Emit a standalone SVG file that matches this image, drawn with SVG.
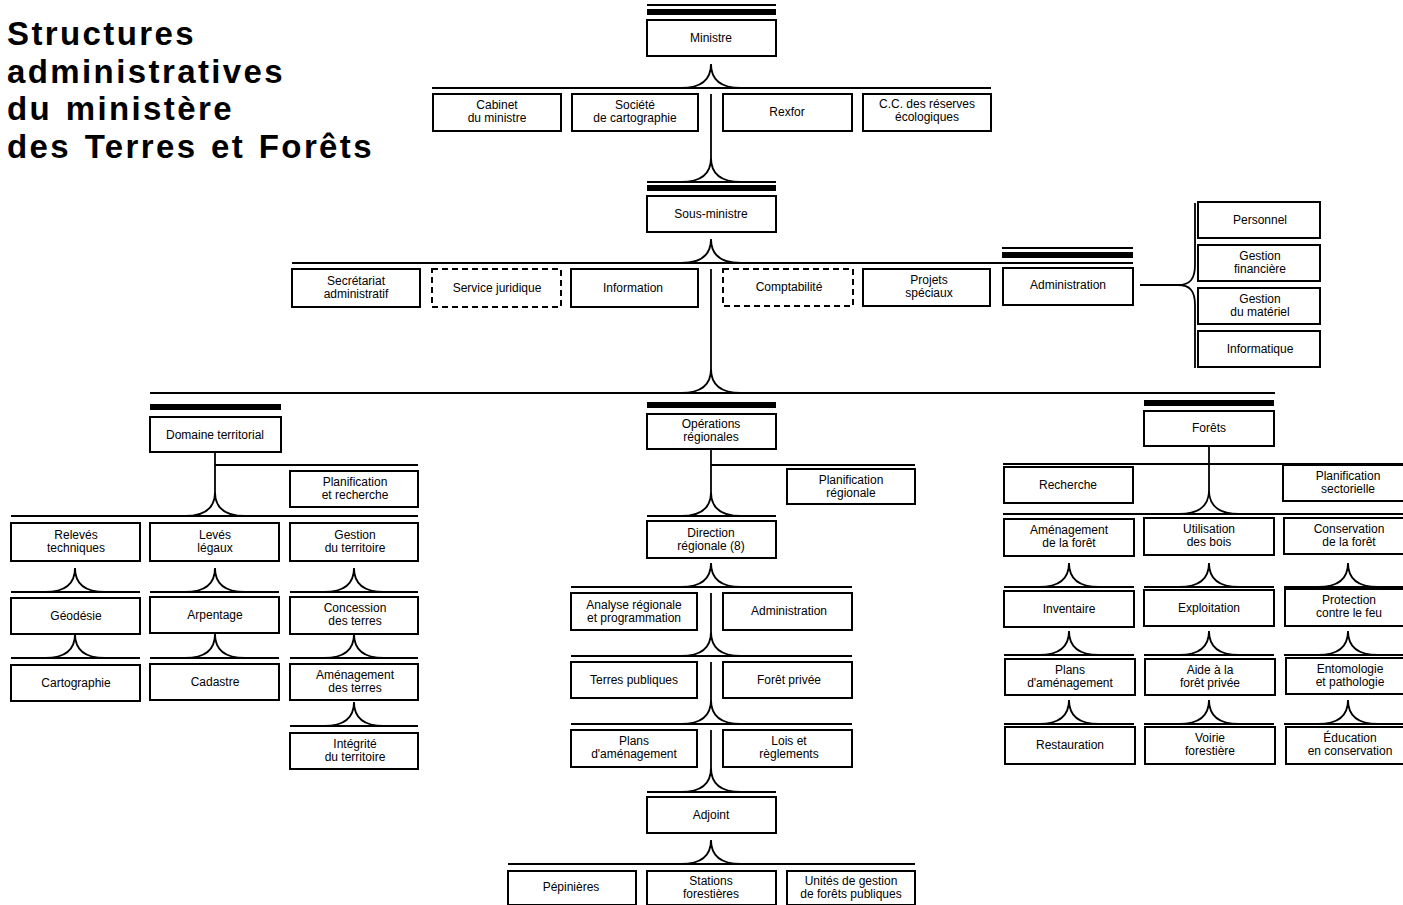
<svg xmlns="http://www.w3.org/2000/svg" width="1403" height="905" viewBox="0 0 1403 905">
<style>
.bx{fill:#fff;stroke:#000;stroke-width:2}
.ds{stroke-dasharray:6 4}
.ln{fill:none;stroke:#000;stroke-width:1.8}
.bar{fill:#000}
.t{font-family:"Liberation Sans",Arial,sans-serif;font-size:12px;text-anchor:middle;fill:#000}
.ti{font-family:"Liberation Sans",Arial,sans-serif;font-size:33px;font-weight:bold;letter-spacing:2.4px;word-spacing:2px;fill:#000}
</style>
<rect x="0" y="0" width="1403" height="905" fill="#fff"/>
<g id="title">
<text class="ti" x="7" y="45">Structures</text>
<text class="ti" x="7" y="83">administratives</text>
<text class="ti" x="7" y="120">du ministère</text>
<text class="ti" x="7" y="158">des Terres et Forêts</text>
</g>
<g id="connectors">
<line class="ln" x1="647" y1="5" x2="776" y2="5"/>
<rect class="bar" x="647" y="9" width="129" height="6"/>
<line class="ln" x1="432" y1="88" x2="991" y2="88"/>
<path class="ln" d="M681,88 C699,88 711,82 711,64 C711,82 723,88 741,88"/>
<line class="ln" x1="711" y1="94" x2="711" y2="158"/>
<line class="ln" x1="647" y1="182" x2="776" y2="182"/>
<path class="ln" d="M681,182 C699,182 711,176 711,158 C711,176 723,182 741,182"/>
<rect class="bar" x="647" y="185" width="129" height="6"/>
<line class="ln" x1="292" y1="263" x2="1133" y2="263"/>
<path class="ln" d="M681,263 C699,263 711,257 711,239 C711,257 723,263 741,263"/>
<line class="ln" x1="1002" y1="248" x2="1133" y2="248"/>
<rect class="bar" x="1002" y="252" width="131" height="6"/>
<line class="ln" x1="711" y1="269" x2="711" y2="369"/>
<line class="ln" x1="150" y1="393" x2="1275" y2="393"/>
<path class="ln" d="M681,393 C699,393 711,387 711,369 C711,387 723,393 741,393"/>
<line class="ln" x1="1140" y1="285" x2="1178" y2="285"/>
<path class="ln" d="M1195,203 L1195,265 C1195,279 1190,285 1178,285 C1190,285 1195,291 1195,305 L1195,368"/>
<rect class="bar" x="150" y="404" width="131" height="6"/>
<rect class="bar" x="647" y="402" width="129" height="6"/>
<rect class="bar" x="1144" y="400" width="130" height="6"/>
<line class="ln" x1="215" y1="452" x2="215" y2="492"/>
<line class="ln" x1="215" y1="465" x2="418" y2="465"/>
<line class="ln" x1="11" y1="516" x2="418" y2="516"/>
<path class="ln" d="M185,516 C203,516 215,510 215,492 C215,510 227,516 245,516"/>
<line class="ln" x1="11" y1="592" x2="140" y2="592"/>
<path class="ln" d="M45,592 C63,592 75,586 75,568 C75,586 87,592 105,592"/>
<line class="ln" x1="150" y1="592" x2="279" y2="592"/>
<path class="ln" d="M185,592 C203,592 215,586 215,568 C215,586 227,592 245,592"/>
<line class="ln" x1="290" y1="592" x2="418" y2="592"/>
<path class="ln" d="M324,592 C342,592 354,586 354,568 C354,586 366,592 384,592"/>
<line class="ln" x1="11" y1="658" x2="140" y2="658"/>
<path class="ln" d="M45,658 C63,658 75,652 75,634 C75,652 87,658 105,658"/>
<line class="ln" x1="150" y1="658" x2="279" y2="658"/>
<path class="ln" d="M185,658 C203,658 215,652 215,634 C215,652 227,658 245,658"/>
<line class="ln" x1="290" y1="658" x2="418" y2="658"/>
<path class="ln" d="M324,658 C342,658 354,652 354,634 C354,652 366,658 384,658"/>
<line class="ln" x1="290" y1="726" x2="418" y2="726"/>
<path class="ln" d="M324,726 C342,726 354,720 354,702 C354,720 366,726 384,726"/>
<line class="ln" x1="711" y1="449" x2="711" y2="492"/>
<line class="ln" x1="711" y1="465" x2="915" y2="465"/>
<line class="ln" x1="647" y1="516" x2="776" y2="516"/>
<path class="ln" d="M681,516 C699,516 711,510 711,492 C711,510 723,516 741,516"/>
<line class="ln" x1="571" y1="587" x2="852" y2="587"/>
<path class="ln" d="M681,587 C699,587 711,581 711,563 C711,581 723,587 741,587"/>
<line class="ln" x1="711" y1="593" x2="711" y2="632"/>
<line class="ln" x1="571" y1="656" x2="852" y2="656"/>
<path class="ln" d="M681,656 C699,656 711,650 711,632 C711,650 723,656 741,656"/>
<line class="ln" x1="711" y1="662" x2="711" y2="700"/>
<line class="ln" x1="571" y1="724" x2="852" y2="724"/>
<path class="ln" d="M681,724 C699,724 711,718 711,700 C711,718 723,724 741,724"/>
<line class="ln" x1="711" y1="730" x2="711" y2="768"/>
<line class="ln" x1="647" y1="792" x2="776" y2="792"/>
<path class="ln" d="M681,792 C699,792 711,786 711,768 C711,786 723,792 741,792"/>
<line class="ln" x1="508" y1="864" x2="915" y2="864"/>
<path class="ln" d="M681,864 C699,864 711,858 711,840 C711,858 723,864 741,864"/>
<line class="ln" x1="1209" y1="446" x2="1209" y2="490"/>
<line class="ln" x1="1003" y1="464" x2="1403" y2="464"/>
<line class="ln" x1="1003" y1="514" x2="1403" y2="514"/>
<path class="ln" d="M1179,514 C1197,514 1209,508 1209,490 C1209,508 1221,514 1239,514"/>
<line class="ln" x1="1004" y1="587" x2="1134" y2="587"/>
<path class="ln" d="M1039,587 C1057,587 1069,581 1069,563 C1069,581 1081,587 1099,587"/>
<line class="ln" x1="1144" y1="587" x2="1274" y2="587"/>
<path class="ln" d="M1179,587 C1197,587 1209,581 1209,563 C1209,581 1221,587 1239,587"/>
<line class="ln" x1="1284" y1="587" x2="1403" y2="587"/>
<path class="ln" d="M1318,587 C1336,587 1348,581 1348,563 C1348,581 1360,587 1378,587"/>
<line class="ln" x1="1004" y1="655" x2="1134" y2="655"/>
<path class="ln" d="M1039,655 C1057,655 1069,649 1069,631 C1069,649 1081,655 1099,655"/>
<line class="ln" x1="1144" y1="655" x2="1274" y2="655"/>
<path class="ln" d="M1179,655 C1197,655 1209,649 1209,631 C1209,649 1221,655 1239,655"/>
<line class="ln" x1="1284" y1="655" x2="1403" y2="655"/>
<path class="ln" d="M1318,655 C1336,655 1348,649 1348,631 C1348,649 1360,655 1378,655"/>
<line class="ln" x1="1004" y1="724" x2="1134" y2="724"/>
<path class="ln" d="M1039,724 C1057,724 1069,718 1069,700 C1069,718 1081,724 1099,724"/>
<line class="ln" x1="1144" y1="724" x2="1274" y2="724"/>
<path class="ln" d="M1179,724 C1197,724 1209,718 1209,700 C1209,718 1221,724 1239,724"/>
<line class="ln" x1="1284" y1="724" x2="1403" y2="724"/>
<path class="ln" d="M1318,724 C1336,724 1348,718 1348,700 C1348,718 1360,724 1378,724"/>
</g>
<g id="n-ministre"><rect class="bx" x="647" y="20" width="129" height="36"/><text class="t" x="711" y="42">Ministre</text></g>
<g id="n-cabinet"><rect class="bx" x="433" y="94" width="128" height="37"/><text class="t" x="497" y="109">Cabinet</text><text class="t" x="497" y="122">du ministre</text></g>
<g id="n-societe"><rect class="bx" x="572" y="94" width="126" height="37"/><text class="t" x="635" y="109">Société</text><text class="t" x="635" y="122">de cartographie</text></g>
<g id="n-rexfor"><rect class="bx" x="723" y="94" width="129" height="37"/><text class="t" x="787" y="116">Rexfor</text></g>
<g id="n-cc"><rect class="bx" x="863" y="94" width="128" height="37"/><text class="t" x="927" y="108">C.C. des réserves</text><text class="t" x="927" y="121">écologiques</text></g>
<g id="n-sousministre"><rect class="bx" x="647" y="196" width="129" height="36"/><text class="t" x="711" y="218">Sous-ministre</text></g>
<g id="n-secretariat"><rect class="bx" x="292" y="269" width="128" height="38"/><text class="t" x="356" y="285">Secrétariat</text><text class="t" x="356" y="298">administratif</text></g>
<g id="n-juridique"><rect class="bx ds" x="432" y="269" width="129" height="38"/><text class="t" x="497" y="292">Service juridique</text></g>
<g id="n-information"><rect class="bx" x="571" y="269" width="127" height="38"/><text class="t" x="633" y="292">Information</text></g>
<g id="n-comptabilite"><rect class="bx ds" x="723" y="269" width="130" height="37"/><text class="t" x="789" y="291">Comptabilité</text></g>
<g id="n-projets"><rect class="bx" x="863" y="269" width="127" height="37"/><text class="t" x="929" y="284">Projets</text><text class="t" x="929" y="297">spéciaux</text></g>
<g id="n-administration"><rect class="bx" x="1003" y="268" width="130" height="37"/><text class="t" x="1068" y="289">Administration</text></g>
<g id="n-personnel"><rect class="bx" x="1198" y="202" width="122" height="36"/><text class="t" x="1260" y="224">Personnel</text></g>
<g id="n-gestfin"><rect class="bx" x="1198" y="245" width="122" height="36"/><text class="t" x="1260" y="260">Gestion</text><text class="t" x="1260" y="273">financière</text></g>
<g id="n-gestmat"><rect class="bx" x="1198" y="288" width="122" height="36"/><text class="t" x="1260" y="303">Gestion</text><text class="t" x="1260" y="316">du matériel</text></g>
<g id="n-informatique"><rect class="bx" x="1198" y="331" width="122" height="36"/><text class="t" x="1260" y="353">Informatique</text></g>
<g id="n-domaine"><rect class="bx" x="150" y="417" width="131" height="35"/><text class="t" x="215" y="439">Domaine territorial</text></g>
<g id="n-planrech"><rect class="bx" x="290" y="471" width="128" height="36"/><text class="t" x="355" y="486">Planification</text><text class="t" x="355" y="499">et recherche</text></g>
<g id="n-releves"><rect class="bx" x="11" y="523" width="129" height="38"/><text class="t" x="76" y="539">Relevés</text><text class="t" x="76" y="552">techniques</text></g>
<g id="n-leves"><rect class="bx" x="150" y="523" width="129" height="38"/><text class="t" x="215" y="539">Levés</text><text class="t" x="215" y="552">légaux</text></g>
<g id="n-gestter"><rect class="bx" x="290" y="523" width="128" height="38"/><text class="t" x="355" y="539">Gestion</text><text class="t" x="355" y="552">du territoire</text></g>
<g id="n-geodesie"><rect class="bx" x="11" y="598" width="129" height="36"/><text class="t" x="76" y="620">Géodésie</text></g>
<g id="n-arpentage"><rect class="bx" x="150" y="597" width="129" height="36"/><text class="t" x="215" y="619">Arpentage</text></g>
<g id="n-concession"><rect class="bx" x="290" y="597" width="128" height="37"/><text class="t" x="355" y="612">Concession</text><text class="t" x="355" y="625">des terres</text></g>
<g id="n-cartographie"><rect class="bx" x="11" y="665" width="129" height="36"/><text class="t" x="76" y="687">Cartographie</text></g>
<g id="n-cadastre"><rect class="bx" x="150" y="664" width="129" height="36"/><text class="t" x="215" y="686">Cadastre</text></g>
<g id="n-amenterres"><rect class="bx" x="290" y="664" width="128" height="36"/><text class="t" x="355" y="679">Aménagement</text><text class="t" x="355" y="692">des terres</text></g>
<g id="n-integrite"><rect class="bx" x="290" y="733" width="128" height="36"/><text class="t" x="355" y="748">Intégrité</text><text class="t" x="355" y="761">du territoire</text></g>
<g id="n-operations"><rect class="bx" x="647" y="414" width="129" height="35"/><text class="t" x="711" y="428">Opérations</text><text class="t" x="711" y="441">régionales</text></g>
<g id="n-planreg"><rect class="bx" x="787" y="469" width="128" height="35"/><text class="t" x="851" y="484">Planification</text><text class="t" x="851" y="497">régionale</text></g>
<g id="n-direction"><rect class="bx" x="647" y="521" width="129" height="37"/><text class="t" x="711" y="537">Direction</text><text class="t" x="711" y="550">régionale (8)</text></g>
<g id="n-analyse"><rect class="bx" x="571" y="593" width="126" height="37"/><text class="t" x="634" y="609">Analyse régionale</text><text class="t" x="634" y="622">et programmation</text></g>
<g id="n-adminreg"><rect class="bx" x="723" y="593" width="129" height="37"/><text class="t" x="789" y="615">Administration</text></g>
<g id="n-terrespub"><rect class="bx" x="571" y="662" width="126" height="36"/><text class="t" x="634" y="684">Terres publiques</text></g>
<g id="n-foretprivee"><rect class="bx" x="723" y="662" width="129" height="36"/><text class="t" x="789" y="684">Forêt privée</text></g>
<g id="n-plansreg"><rect class="bx" x="571" y="730" width="126" height="37"/><text class="t" x="634" y="745">Plans</text><text class="t" x="634" y="758">d'aménagement</text></g>
<g id="n-lois"><rect class="bx" x="723" y="730" width="129" height="37"/><text class="t" x="789" y="745">Lois et</text><text class="t" x="789" y="758">règlements</text></g>
<g id="n-adjoint"><rect class="bx" x="647" y="797" width="129" height="36"/><text class="t" x="711" y="819">Adjoint</text></g>
<g id="n-pepinieres"><rect class="bx" x="508" y="871" width="128" height="34"/><text class="t" x="571" y="891">Pépinières</text></g>
<g id="n-stations"><rect class="bx" x="647" y="871" width="129" height="34"/><text class="t" x="711" y="885">Stations</text><text class="t" x="711" y="898">forestières</text></g>
<g id="n-unites"><rect class="bx" x="787" y="871" width="128" height="34"/><text class="t" x="851" y="885">Unités de gestion</text><text class="t" x="851" y="898">de forêts publiques</text></g>
<g id="n-forets"><rect class="bx" x="1144" y="411" width="130" height="35"/><text class="t" x="1209" y="432">Forêts</text></g>
<g id="n-recherche"><rect class="bx" x="1004" y="467" width="129" height="36"/><text class="t" x="1068" y="489">Recherche</text></g>
<g id="n-plansect"><rect class="bx" x="1283" y="465" width="130" height="36"/><text class="t" x="1348" y="480">Planification</text><text class="t" x="1348" y="493">sectorielle</text></g>
<g id="n-amenforet"><rect class="bx" x="1004" y="519" width="130" height="37"/><text class="t" x="1069" y="534">Aménagement</text><text class="t" x="1069" y="547">de la forêt</text></g>
<g id="n-utilisation"><rect class="bx" x="1144" y="518" width="130" height="37"/><text class="t" x="1209" y="533">Utilisation</text><text class="t" x="1209" y="546">des bois</text></g>
<g id="n-conservation"><rect class="bx" x="1284" y="518" width="130" height="36"/><text class="t" x="1349" y="533">Conservation</text><text class="t" x="1349" y="546">de la forêt</text></g>
<g id="n-inventaire"><rect class="bx" x="1004" y="591" width="130" height="36"/><text class="t" x="1069" y="613">Inventaire</text></g>
<g id="n-exploitation"><rect class="bx" x="1144" y="590" width="130" height="36"/><text class="t" x="1209" y="612">Exploitation</text></g>
<g id="n-protection"><rect class="bx" x="1285" y="589" width="130" height="37"/><text class="t" x="1349" y="604">Protection</text><text class="t" x="1349" y="617">contre le feu</text></g>
<g id="n-plansamen"><rect class="bx" x="1005" y="659" width="130" height="36"/><text class="t" x="1070" y="674">Plans</text><text class="t" x="1070" y="687">d'aménagement</text></g>
<g id="n-aide"><rect class="bx" x="1145" y="659" width="130" height="36"/><text class="t" x="1210" y="674">Aide à la</text><text class="t" x="1210" y="687">forêt privée</text></g>
<g id="n-entomologie"><rect class="bx" x="1286" y="658" width="130" height="36"/><text class="t" x="1350" y="673">Entomologie</text><text class="t" x="1350" y="686">et pathologie</text></g>
<g id="n-restauration"><rect class="bx" x="1005" y="727" width="130" height="37"/><text class="t" x="1070" y="749">Restauration</text></g>
<g id="n-voirie"><rect class="bx" x="1145" y="727" width="130" height="37"/><text class="t" x="1210" y="742">Voirie</text><text class="t" x="1210" y="755">forestière</text></g>
<g id="n-education"><rect class="bx" x="1286" y="727" width="130" height="37"/><text class="t" x="1350" y="742">Éducation</text><text class="t" x="1350" y="755">en conservation</text></g>
</svg>
